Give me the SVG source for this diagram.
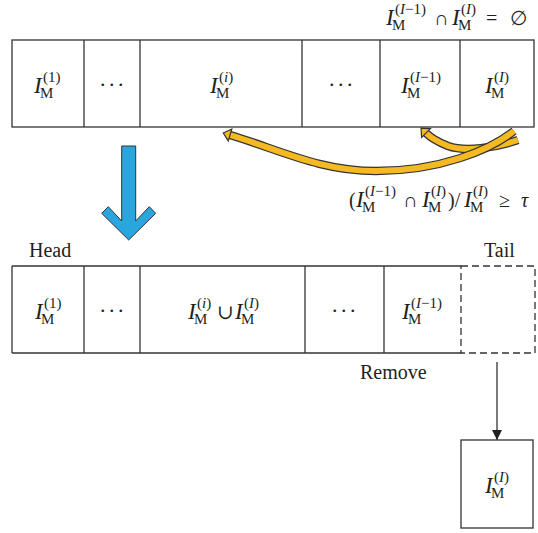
<svg xmlns="http://www.w3.org/2000/svg" width="538" height="533" viewBox="0 0 538 533">
<style>
  text { font-family: "Liberation Serif", "DejaVu Serif", serif; fill: #231f20; }
  .it { font-style: italic; font-size: 23px; }
  .s { font-size: 15px; }
  .si { font-size: 15px; font-style: italic; }
  .op { font-size: 20px; }
  .lbl { font-size: 20px; }
  .dots { font-size: 22px; letter-spacing: 3.5px; }
  .box { fill: #fff; stroke: #333; stroke-width: 1.3; }
  .ln { stroke: #333; stroke-width: 1.3; fill: none; }
  .dash { stroke: #333; stroke-width: 1.3; fill: none; stroke-dasharray: 7 4; }
  .rib-o { fill: none; stroke: #333; stroke-width: 8.4; stroke-linecap: butt; }
  .rib-i { fill: none; stroke: #f5b921; stroke-width: 6; stroke-linecap: butt; }
</style>
<defs>
  <marker id="gold-head" markerUnits="userSpaceOnUse" markerWidth="14" markerHeight="16" refX="1" refY="7" orient="auto" overflow="visible">
    <polygon points="1,0.8 8,7 1,13.2" fill="#f5b921" stroke="#333" stroke-width="1.2"/>
  </marker>
  <marker id="blk" markerUnits="userSpaceOnUse" markerWidth="12" markerHeight="12" refX="10" refY="5" orient="auto">
    <polygon points="0,0 10,5 0,10" fill="#231f20"/>
  </marker>
</defs>

<!-- top formula -->
<g id="cond-top">
  <text><tspan class="it" x="386" y="25">I</tspan><tspan class="s" x="392" y="30">M</tspan><tspan class="s" x="395" y="14">(<tspan class="si">I</tspan>−1)</tspan></text>
  <text class="op" x="434" y="25">∩</text>
  <text><tspan class="it" x="452" y="25">I</tspan><tspan class="s" x="458" y="30">M</tspan><tspan class="s" x="461" y="14">(<tspan class="si">I</tspan>)</tspan></text>
  <text class="op" x="486" y="25">=</text>
  <text class="op" x="510" y="25">∅</text>
</g>

<!-- top row -->
<g id="top-row">
  <rect class="box" x="12" y="40" width="522" height="87"/>
  <line class="ln" x1="84" y1="40" x2="84" y2="127"/>
  <line class="ln" x1="140" y1="40" x2="140" y2="127"/>
  <line class="ln" x1="302" y1="40" x2="302" y2="127"/>
  <line class="ln" x1="380" y1="40" x2="380" y2="127"/>
  <line class="ln" x1="460" y1="40" x2="460" y2="127"/>
  <text><tspan class="it" x="34" y="93">I</tspan><tspan class="s" x="40" y="98">M</tspan><tspan class="s" x="43" y="82">(1)</tspan></text>
  <text class="dots" x="100" y="86">...</text>
  <text><tspan class="it" x="210" y="93">I</tspan><tspan class="s" x="216" y="98">M</tspan><tspan class="s" x="219" y="82">(<tspan class="si">i</tspan>)</tspan></text>
  <text class="dots" x="329" y="86">...</text>
  <text><tspan class="it" x="401" y="93">I</tspan><tspan class="s" x="407" y="98">M</tspan><tspan class="s" x="410" y="82">(<tspan class="si">I</tspan>−1)</tspan></text>
  <text><tspan class="it" x="485" y="93">I</tspan><tspan class="s" x="491" y="98">M</tspan><tspan class="s" x="494" y="82">(<tspan class="si">I</tspan>)</tspan></text>
</g>

<!-- connectors -->
<g id="connectors">
  <path class="rib-o" d="M 518 140 C 495 148, 465 152, 448 146 C 438 142, 431 138, 426 133"/>
  <path class="rib-i" d="M 518 140 C 495 148, 465 152, 448 146 C 438 142, 431 138, 426 133" marker-end="url(#gold-head)"/>
  <path class="rib-o" d="M 514 131 C 490 150, 440 171, 376 171 C 320 171, 280 150, 230 135"/>
  <path class="rib-i" d="M 514 131 C 490 150, 440 171, 376 171 C 320 171, 280 150, 230 135" marker-end="url(#gold-head)"/>
  <polygon points="121.7,146 135.7,146 135.7,221 149.3,206.7 155.7,213.3 128.7,240 101.7,213.3 108.3,206.7 121.7,221" fill="#29a6de" stroke="#333" stroke-width="1"/>
  <line class="ln" x1="497" y1="362" x2="497" y2="440" marker-end="url(#blk)"/>
</g>

<!-- second formula -->
<g id="cond-ratio">
  <text class="op" x="349" y="207">(</text>
  <text><tspan class="it" x="356" y="207">I</tspan><tspan class="s" x="362" y="212">M</tspan><tspan class="s" x="365" y="196">(<tspan class="si">I</tspan>−1)</tspan></text>
  <text class="op" x="403" y="207">∩</text>
  <text><tspan class="it" x="422" y="207">I</tspan><tspan class="s" x="428" y="212">M</tspan><tspan class="s" x="431" y="196">(<tspan class="si">I</tspan>)</tspan></text>
  <text class="op" x="448" y="207">)/</text>
  <text><tspan class="it" x="464" y="207">I</tspan><tspan class="s" x="470" y="212">M</tspan><tspan class="s" x="473" y="196">(<tspan class="si">I</tspan>)</tspan></text>
  <text class="op" x="499" y="207">≥</text>
  <text class="op" x="521" y="207" font-style="italic" font-size="22">τ</text>
</g>

<!-- labels -->
<g id="labels">
  <text class="lbl" x="29" y="257">Head</text>
  <text class="lbl" x="484" y="257">Tail</text>
  <text class="lbl" x="360" y="379">Remove</text>
</g>

<!-- bottom row -->
<g id="bottom-row">
  <line class="ln" x1="12" y1="266" x2="461" y2="266"/>
  <line class="ln" x1="12" y1="353" x2="461" y2="353"/>
  <line class="ln" x1="12" y1="266" x2="12" y2="353"/>
  <line class="ln" x1="84" y1="266" x2="84" y2="353"/>
  <line class="ln" x1="140" y1="266" x2="140" y2="353"/>
  <line class="ln" x1="305" y1="266" x2="305" y2="353"/>
  <line class="ln" x1="384" y1="266" x2="384" y2="353"/>
  <text><tspan class="it" x="35" y="319">I</tspan><tspan class="s" x="41" y="324">M</tspan><tspan class="s" x="44" y="308">(1)</tspan></text>
  <text class="dots" x="100" y="312">...</text>
  <text><tspan class="it" x="188" y="319">I</tspan><tspan class="s" x="194" y="324">M</tspan><tspan class="s" x="197" y="308">(<tspan class="si">i</tspan>)</tspan></text>
  <text class="op" x="217" y="319">∪</text>
  <text><tspan class="it" x="235" y="319">I</tspan><tspan class="s" x="241" y="324">M</tspan><tspan class="s" x="244" y="308">(<tspan class="si">I</tspan>)</tspan></text>
  <text class="dots" x="332" y="312">...</text>
  <text><tspan class="it" x="402" y="319">I</tspan><tspan class="s" x="408" y="324">M</tspan><tspan class="s" x="411" y="308">(<tspan class="si">I</tspan>−1)</tspan></text>
</g>

<g id="tail-slot">
  <path class="dash" d="M 461 266 H 535 V 353 H 461 Z"/>
</g>

<g id="removed">
  <rect class="box" x="461" y="440" width="72" height="88"/>
  <text><tspan class="it" x="485" y="493">I</tspan><tspan class="s" x="491" y="498">M</tspan><tspan class="s" x="494" y="482">(<tspan class="si">I</tspan>)</tspan></text>
</g>
</svg>
